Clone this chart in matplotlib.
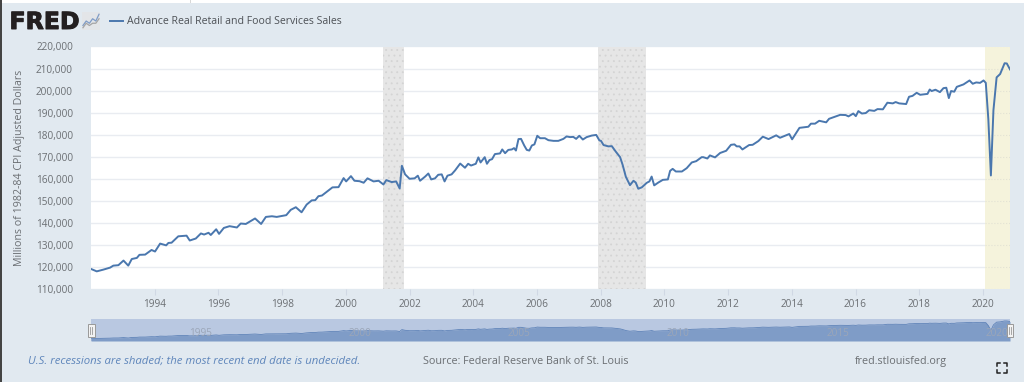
import matplotlib
matplotlib.use('Agg')
import matplotlib.pyplot as plt
import matplotlib.patheffects as pe
from matplotlib.patches import Rectangle
from matplotlib.ticker import FuncFormatter

W, H = 1024, 382

plt.rcParams['font.family'] = ['Open Sans', 'DejaVu Sans']
plt.rcParams['hatch.linewidth'] = 0.6

# decimal years
dates = [
    1992.0, 1992.18, 1992.39, 1992.6, 1992.7, 1992.86, 1993.02, 1993.17, 1993.28, 1993.44, 1993.52, 1993.7,
    1993.9, 1994.01, 1994.17, 1994.36, 1994.43, 1994.53, 1994.74, 1995.0, 1995.1, 1995.29, 1995.45, 1995.55,
    1995.69, 1995.76, 1995.93, 1996.02, 1996.17, 1996.35, 1996.58, 1996.7, 1996.86, 1997.15, 1997.34, 1997.49,
    1997.68, 1997.83, 1998.13, 1998.27, 1998.43, 1998.61, 1998.77, 1998.93, 1999.04, 1999.14, 1999.25, 1999.4,
    1999.58, 1999.77, 1999.93, 2000.01, 2000.16, 2000.27, 2000.43, 2000.56, 2000.68, 2000.87, 2001.03, 2001.18,
    2001.27, 2001.44, 2001.58, 2001.69, 2001.76, 2001.86, 2002.0, 2002.16, 2002.26, 2002.33, 2002.49, 2002.59,
    2002.68, 2002.8, 2002.9, 2003.01, 2003.1, 2003.19, 2003.32, 2003.43, 2003.59, 2003.74, 2003.84, 2003.93,
    2004.08, 2004.16, 2004.23, 2004.36, 2004.43, 2004.51, 2004.59, 2004.68, 2004.84, 2004.91, 2005.0, 2005.1,
    2005.21, 2005.28, 2005.34, 2005.42, 2005.5, 2005.6, 2005.68, 2005.76, 2005.84, 2005.92, 2006.01, 2006.1,
    2006.25, 2006.36, 2006.52, 2006.67, 2006.83, 2006.93, 2007.04, 2007.14, 2007.23, 2007.33, 2007.44, 2007.56,
    2007.72, 2007.86, 2007.96, 2008.01, 2008.09, 2008.24, 2008.35, 2008.47, 2008.61, 2008.69, 2008.79, 2008.92,
    2009.03, 2009.1, 2009.18, 2009.29, 2009.45, 2009.53, 2009.6, 2009.68, 2009.81, 2009.95, 2010.11, 2010.18,
    2010.26, 2010.36, 2010.55, 2010.7, 2010.86, 2011.0, 2011.17, 2011.22, 2011.35, 2011.43, 2011.59, 2011.75,
    2011.94, 2012.09, 2012.2, 2012.27, 2012.36, 2012.45, 2012.66, 2012.77, 2012.95, 2013.09, 2013.27, 2013.51,
    2013.63, 2013.92, 2014.01, 2014.24, 2014.52, 2014.6, 2014.73, 2014.86, 2015.08, 2015.17, 2015.34, 2015.52,
    2015.69, 2015.78, 2015.93, 2016.01, 2016.09, 2016.2, 2016.32, 2016.43, 2016.59, 2016.69, 2016.86, 2017.0,
    2017.17, 2017.26, 2017.37, 2017.59, 2017.68, 2017.79, 2017.92, 2018.03, 2018.26, 2018.33, 2018.39, 2018.51,
    2018.65, 2018.76, 2018.85, 2018.93, 2019.0, 2019.1, 2019.18, 2019.39, 2019.58, 2019.68, 2019.79, 2019.91,
    2020.02, 2020.09, 2020.17, 2020.25, 2020.33, 2020.43, 2020.54, 2020.6, 2020.68, 2020.75, 2020.85,
]
sales = [
    119100, 118000, 118800, 119700, 120600, 120800, 122900, 120600, 123600, 124100, 125500, 125600,
    127700, 127000, 130600, 129800, 130900, 131000, 133900, 134200, 132000, 132900, 135200, 134700,
    135500, 134500, 137100, 135000, 137700, 138500, 137900, 139700, 139500, 142000, 139500, 142700,
    143000, 142700, 143500, 145900, 147100, 144800, 148300, 150200, 150300, 152100, 152400, 154100,
    156100, 156200, 160300, 158800, 161200, 159100, 158900, 158200, 160200, 158800, 159100, 157400,
    159400, 158500, 158800, 155600, 165900, 162000, 160000, 160200, 161400, 159100, 161000, 162400,
    159700, 160200, 161800, 162000, 158800, 161400, 162000, 163800, 166900, 165000, 166800, 166000,
    166800, 169700, 167400, 169800, 166800, 168500, 168900, 171200, 171500, 173300, 171600, 173100,
    173300, 173900, 172800, 178000, 178100, 175100, 173100, 172800, 175100, 175600, 179500, 178400,
    178400, 177500, 177200, 177200, 178100, 179200, 178900, 179000, 178100, 179500, 177800, 178900,
    179600, 179900, 177400, 177200, 175300, 174700, 174800, 172400, 169800, 166300, 160900, 157100,
    159100, 158300, 155500, 156100, 158200, 158800, 161000, 157000, 158300, 159500, 159700, 163600,
    164500, 163300, 163300, 164800, 167400, 168000, 169800, 169800, 169200, 170600, 169700, 171700,
    172700, 175400, 175600, 174700, 174700, 173300, 175300, 175400, 177100, 179100, 178000, 179700,
    178600, 180300, 177900, 183100, 183600, 185000, 185000, 186300, 185600, 187200, 188100, 189000,
    188900, 188300, 189600, 188400, 190700, 189600, 189800, 191100, 190800, 191600, 191500, 194500,
    194200, 194800, 194200, 193900, 197200, 197600, 199000, 198100, 198500, 200500, 199800, 200400,
    199300, 201100, 201300, 196600, 199800, 199500, 201700, 202800, 204600, 203100, 203700, 203500,
    204600, 203500, 187000, 161500, 191100, 206000, 207500, 209600, 212400, 212300, 209600,
]

recessions = [(2001.17, 2001.83), (2007.92, 2009.42)]
undecided = (2020.08, 2020.85)

y_ticks = [110000, 120000, 130000, 140000, 150000, 160000, 170000, 180000, 190000, 200000, 210000, 220000]
x_ticks = [1994, 1996, 1998, 2000, 2002, 2004, 2006, 2008, 2010, 2012, 2014, 2016, 2018, 2020]
nav_labels = [1995, 2000, 2005, 2010, 2015, 2020]

BG = '#e1e9f0'
LINE = '#4a77ae'
TXT = '#6b6f73'


def fx(px):
    return px / W


def fy(py):
    return 1 - py / H


def box(left, top, right, bottom):
    return [fx(left), fy(bottom), (right - left) / W, (bottom - top) / H]


fig = plt.figure(figsize=(W / 100, H / 100), dpi=100, facecolor=BG)

# page bits round the screenshot
fig.patches.append(Rectangle((0, fy(3)), 1, 3 / H, transform=fig.transFigure, color='white', lw=0))
fig.patches.append(Rectangle((fx(190), fy(3)), 1 / W, 3 / H, transform=fig.transFigure, color='#d8d8d8', lw=0))
fig.patches.append(Rectangle((0, 0), 1.5 / W, 1, transform=fig.transFigure, color='#444444', lw=0))

# main chart
ax = fig.add_axes(box(91, 46.5, 1010, 289))
ax.set_xlim(1992.0, 2020.85)
ax.set_ylim(110000, 220000)
ax.set_facecolor('white')
for s in ax.spines.values():
    s.set_visible(False)
for start, end in recessions:
    ax.axvspan(start, end, facecolor='#e6e6e6', edgecolor='#d4d4d4', hatch='...', lw=0, zorder=1)
ax.axvspan(undecided[0], undecided[1], facecolor='#f5f3dc', lw=0, zorder=1)
ax.hlines(y_ticks, undecided[0], undecided[1], color='#e2e2d4', linestyles=':', lw=0.8, zorder=2)
ax.set_yticks(y_ticks)
ax.set_xticks(x_ticks)
ax.grid(axis='y', color='#e9ecf1', lw=1, zorder=2)
ax.set_axisbelow(True)
ax.yaxis.set_major_formatter(FuncFormatter(lambda v, p: f'{int(v):,}'))
ax.tick_params(axis='y', length=0, pad=13, labelsize=7.2, labelcolor=TXT)
ax.tick_params(axis='x', length=4, width=0.8, color='#d0d8e4', pad=3.5, labelsize=7.2, labelcolor=TXT)
ax.plot(dates, sales, color=LINE, lw=1.4, solid_joinstyle='round', zorder=3)

fig.text(fx(20), fy(168), 'Millions of 1982-84 CPI Adjusted Dollars', rotation=90, ha='center', va='center',
         fontsize=7.65, color=TXT)

# header
logo_txt = fig.text(fx(9.5), fy(29), 'FRED', family=['DejaVu Sans'], fontweight='bold', fontsize=17,
                    color='#231f20', ha='left', va='baseline')
logo_txt.set_path_effects([pe.withStroke(linewidth=0.7, foreground='#231f20')])
logo = fig.add_axes(box(82, 12, 100, 30))
logo.set_facecolor('#e3e5e8')
logo.set_xticks([])
logo.set_yticks([])
for s in logo.spines.values():
    s.set_visible(False)
logo.plot([0, 1, 2, 3, 4, 5], [1, 3, 2, 4, 3, 6], color='#7f9cc7', lw=0.9)
logo.plot([0, 1, 2, 3, 4, 5], [0, 2, 1, 2, 2, 4], color='#a5a5a5', lw=0.9)
logo.set_xlim(-0.3, 5.3)
logo.set_ylim(-1, 7)

fig.add_artist(plt.Line2D([fx(110), fx(123)], [fy(20.5), fy(20.5)], color=LINE, lw=1.4))
fig.text(fx(127), fy(21), 'Advance Real Retail and Food Services Sales', fontsize=7.57, color='#4d5156',
         ha='left', va='center')

# range navigator
nav = fig.add_axes(box(91, 319, 1010, 341))
nav.set_xlim(1992.0, 2020.85)
nav.set_ylim(104400, 223000)
nav.set_facecolor('#b9c8e1')
nav.set_xticks([])
nav.set_yticks([])
for s in nav.spines.values():
    s.set_visible(False)
nav.fill_between(dates, sales, 104400, color='#7f9cc7', lw=0)
nav.plot(dates, sales, color='#5f83b8', lw=0.6)
for yr in nav_labels:
    nav.text(yr + 0.44, 0.35, str(yr), transform=nav.get_xaxis_transform(), fontsize=7.2, color='#9ba6b8',
             ha='center', va='center', clip_on=True)

for left in (88, 1006.5):
    fig.patches.append(Rectangle((fx(left), fy(337)), 6.5 / W, 13 / H, transform=fig.transFigure,
                                 facecolor='#f2f2f2', edgecolor='#999999', lw=0.7, zorder=5))
    for off in (2.4, 4.1):
        fig.add_artist(plt.Line2D([fx(left + off)] * 2, [fy(334), fy(327)], color='#999999', lw=0.6, zorder=6))

# footer
fig.text(fx(27.5), fy(361.5), 'U.S. recessions are shaded; the most recent end date is undecided.', style='italic',
         fontsize=8.18, color='#5f86bb', ha='left', va='center')
fig.text(fx(423), fy(361.5), 'Source: Federal Reserve Bank of St. Louis', fontsize=7.78, color=TXT,
         ha='left', va='center')
fig.text(fx(855), fy(361.5), 'fred.stlouisfed.org', fontsize=7.75, color=TXT, ha='left', va='center')

# fullscreen icon
for cx, sx in ((997, 1), (1007, -1)):
    for cy, sy in ((363, 1), (373, -1)):
        fig.add_artist(plt.Line2D([fx(cx + 3 * sx), fx(cx), fx(cx)], [fy(cy), fy(cy), fy(cy + 3 * sy)],
                                  color='#222222', lw=1.1))

fig.savefig('out.png', dpi=100, facecolor=fig.get_facecolor())
